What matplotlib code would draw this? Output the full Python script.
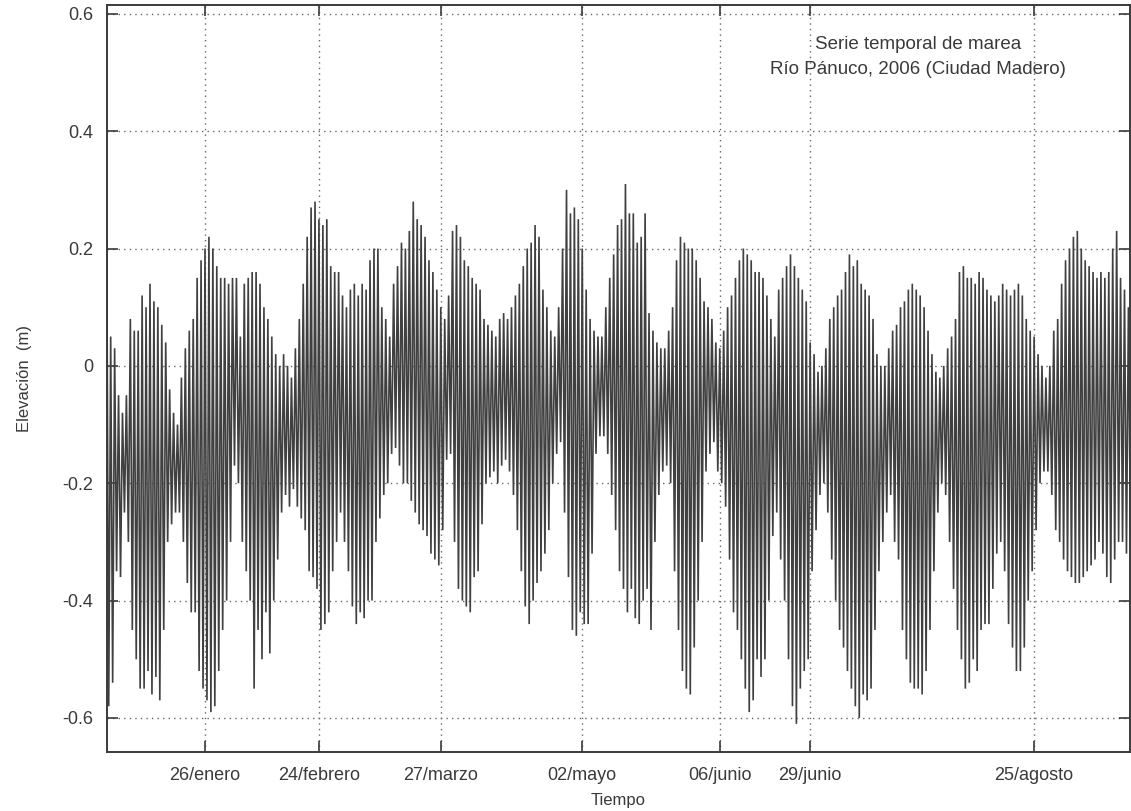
import matplotlib
matplotlib.use("Agg")
import matplotlib.pyplot as plt
import matplotlib.dates as mdates
import numpy as np
from datetime import datetime

# daily high / low water level (m), day 1 = 1 Jan 2006
high = [0.21, 0.05, 0.03, -0.05, -0.08, -0.05, 0.08, 0.06, 0.06, 0.12,
        0.10, 0.14, 0.11, 0.10, 0.07, 0.04, -0.04, -0.08, -0.10, -0.02,
        0.03, 0.06, 0.08, 0.15, 0.18, 0.20, 0.22, 0.20, 0.17, 0.15,
        0.15, 0.14, 0.15, 0.15, 0.05, 0.14, 0.15, 0.16, 0.16, 0.14,
        0.10, 0.08, 0.05, 0.02, 0.00, 0.02, 0.00, -0.02, 0.03, 0.08,
        0.14, 0.22, 0.27, 0.28, 0.25, 0.24, 0.25, 0.17, 0.16, 0.16,
        0.12, 0.10, 0.13, 0.14, 0.12, 0.14, 0.13, 0.18, 0.20, 0.20,
        0.10, 0.08, 0.05, 0.14, 0.17, 0.21, 0.20, 0.23, 0.28, 0.25,
        0.24, 0.22, 0.18, 0.16, 0.13, 0.10, 0.08, 0.12, 0.23, 0.24,
        0.22, 0.18, 0.17, 0.15, 0.14, 0.13, 0.08, 0.07, 0.06, 0.05,
        0.08, 0.09, 0.08, 0.10, 0.12, 0.14, 0.17, 0.20, 0.21, 0.24,
        0.22, 0.13, 0.10, 0.06, 0.05, 0.10, 0.20, 0.30, 0.26, 0.27,
        0.25, 0.20, 0.13, 0.08, 0.06, 0.05, 0.05, 0.10, 0.15, 0.19,
        0.24, 0.25, 0.31, 0.26, 0.26, 0.21, 0.22, 0.26, 0.09, 0.06,
        0.04, 0.03, 0.03, 0.06, 0.10, 0.18, 0.22, 0.21, 0.20, 0.20,
        0.18, 0.15, 0.11, 0.10, 0.08, 0.04, 0.03, 0.06, 0.10, 0.12,
        0.15, 0.18, 0.20, 0.19, 0.18, 0.16, 0.16, 0.15, 0.12, 0.08,
        0.05, 0.13, 0.15, 0.17, 0.19, 0.17, 0.15, 0.13, 0.11, 0.04,
        0.02, -0.01, 0.00, 0.03, 0.08, 0.10, 0.12, 0.13, 0.16, 0.19,
        0.17, 0.18, 0.14, 0.13, 0.12, 0.08, 0.02, 0.00, 0.00, 0.03,
        0.06, 0.07, 0.10, 0.11, 0.13, 0.14, 0.13, 0.12, 0.10, 0.06,
        0.02, -0.01, -0.02, 0.00, 0.03, 0.05, 0.08, 0.16, 0.17, 0.15,
        0.15, 0.14, 0.16, 0.15, 0.13, 0.12, 0.11, 0.12, 0.14, 0.13,
        0.12, 0.13, 0.14, 0.12, 0.08, 0.06, 0.05, 0.02, 0.00, -0.02,
        0.00, 0.06, 0.08, 0.14, 0.18, 0.20, 0.22, 0.23, 0.20, 0.18,
        0.17, 0.16, 0.15, 0.16, 0.15, 0.16, 0.20, 0.23, 0.15, 0.13,
        0.10, 0.06]
low = [-0.58, -0.54, -0.35, -0.36, -0.25, -0.30, -0.45, -0.50, -0.55, -0.55,
       -0.52, -0.56, -0.53, -0.57, -0.45, -0.30, -0.27, -0.25, -0.25, -0.30,
       -0.37, -0.42, -0.42, -0.52, -0.55, -0.57, -0.59, -0.58, -0.52, -0.45,
       -0.40, -0.30, -0.17, -0.20, -0.30, -0.35, -0.40, -0.55, -0.45, -0.50,
       -0.42, -0.49, -0.40, -0.33, -0.25, -0.22, -0.24, -0.21, -0.24, -0.26,
       -0.28, -0.35, -0.36, -0.38, -0.45, -0.44, -0.42, -0.35, -0.30, -0.25,
       -0.30, -0.35, -0.41, -0.44, -0.42, -0.43, -0.40, -0.40, -0.30, -0.26,
       -0.22, -0.20, -0.15, -0.14, -0.17, -0.20, -0.20, -0.23, -0.25, -0.27,
       -0.28, -0.29, -0.32, -0.33, -0.34, -0.28, -0.16, -0.15, -0.30, -0.38,
       -0.40, -0.41, -0.42, -0.36, -0.35, -0.27, -0.20, -0.19, -0.18, -0.20,
       -0.17, -0.16, -0.18, -0.22, -0.28, -0.35, -0.41, -0.44, -0.40, -0.37,
       -0.35, -0.32, -0.28, -0.20, -0.15, -0.13, -0.25, -0.36, -0.45, -0.46,
       -0.42, -0.44, -0.44, -0.32, -0.15, -0.12, -0.12, -0.15, -0.22, -0.28,
       -0.35, -0.38, -0.42, -0.38, -0.43, -0.44, -0.40, -0.38, -0.45, -0.30,
       -0.22, -0.18, -0.17, -0.20, -0.35, -0.45, -0.52, -0.55, -0.56, -0.48,
       -0.40, -0.30, -0.18, -0.15, -0.13, -0.18, -0.20, -0.24, -0.33, -0.42,
       -0.45, -0.50, -0.55, -0.59, -0.57, -0.50, -0.53, -0.50, -0.40, -0.29,
       -0.25, -0.33, -0.40, -0.50, -0.58, -0.61, -0.55, -0.52, -0.50, -0.35,
       -0.28, -0.22, -0.20, -0.25, -0.33, -0.40, -0.45, -0.48, -0.52, -0.55,
       -0.58, -0.60, -0.56, -0.57, -0.55, -0.45, -0.35, -0.30, -0.25, -0.22,
       -0.30, -0.33, -0.45, -0.50, -0.54, -0.55, -0.55, -0.56, -0.52, -0.45,
       -0.35, -0.25, -0.20, -0.22, -0.30, -0.38, -0.45, -0.50, -0.55, -0.54,
       -0.50, -0.52, -0.45, -0.44, -0.44, -0.38, -0.32, -0.30, -0.35, -0.44,
       -0.48, -0.52, -0.52, -0.48, -0.40, -0.35, -0.28, -0.20, -0.18, -0.18,
       -0.22, -0.28, -0.30, -0.33, -0.35, -0.36, -0.37, -0.37, -0.36, -0.35,
       -0.34, -0.33, -0.30, -0.32, -0.36, -0.37, -0.33, -0.30, -0.30, -0.32,
       -0.28, -0.25]

tick_dates = [datetime(2006, 1, 26), datetime(2006, 2, 24), datetime(2006, 3, 27),
              datetime(2006, 5, 2), datetime(2006, 6, 6), datetime(2006, 6, 29),
              datetime(2006, 8, 25)]
tick_labels = ['26/enero', '24/febrero', '27/marzo', '02/mayo', '06/junio',
               '29/junio', '25/agosto']
y_ticks = [-0.6, -0.4, -0.2, 0, 0.2, 0.4, 0.6]
y_labels = ['-0.6', '-0.4', '-0.2', '0', '0.2', '0.4', '0.6']

plt.rcParams['font.family'] = ['Liberation Sans', 'DejaVu Sans']
text_col = '#3a3a3a'

base = mdates.date2num(datetime(2006, 1, 1))
n = len(high)
day = np.arange(n)
t = np.empty(2 * n)
t[0::2] = base + day
t[1::2] = base + day + 0.5
h = np.empty(2 * n)
h[0::2] = high
h[1::2] = low

fig = plt.figure(figsize=(11.31, 8.11), dpi=100)
ax = fig.add_axes([107 / 1131, 1 - 752 / 811, 1023 / 1131, 747 / 811])

ax.plot(t, h, color='#404040', lw=1.2, solid_joinstyle='miter')

ax.set_xlim(base + 0.06, base + 260.4)
ax.set_ylim(-0.658, 0.615)
ax.set_xticks(mdates.date2num(tick_dates))
ax.set_xticklabels(tick_labels)
ax.set_yticks(y_ticks)
ax.set_yticklabels(y_labels)

ax.grid(True, color='#666666', linestyle=(0, (1, 3)), linewidth=1.0)
ax.tick_params(direction='in', length=8, width=1.2, colors='#3a3a3a',
               labelsize=13, labelcolor=text_col, top=True, right=True)
ax.tick_params(axis='x', pad=11)
ax.tick_params(axis='y', pad=10)
for s in ax.spines.values():
    s.set_color('#3a3a3a')
    s.set_linewidth(1.4)

ax.set_xlabel('Tiempo', fontsize=12, color=text_col, labelpad=6)
ax.set_ylabel('Elevación  (m)', fontsize=12, color=text_col, labelpad=22)

ax.text(0.793, 0.958, 'Serie temporal de marea\nRío Pánuco, 2006 (Ciudad Madero)',
        transform=ax.transAxes, ha='center', va='top', fontsize=13.5,
        color=text_col, linespacing=1.6)

fig.savefig('out.png', dpi=100)
